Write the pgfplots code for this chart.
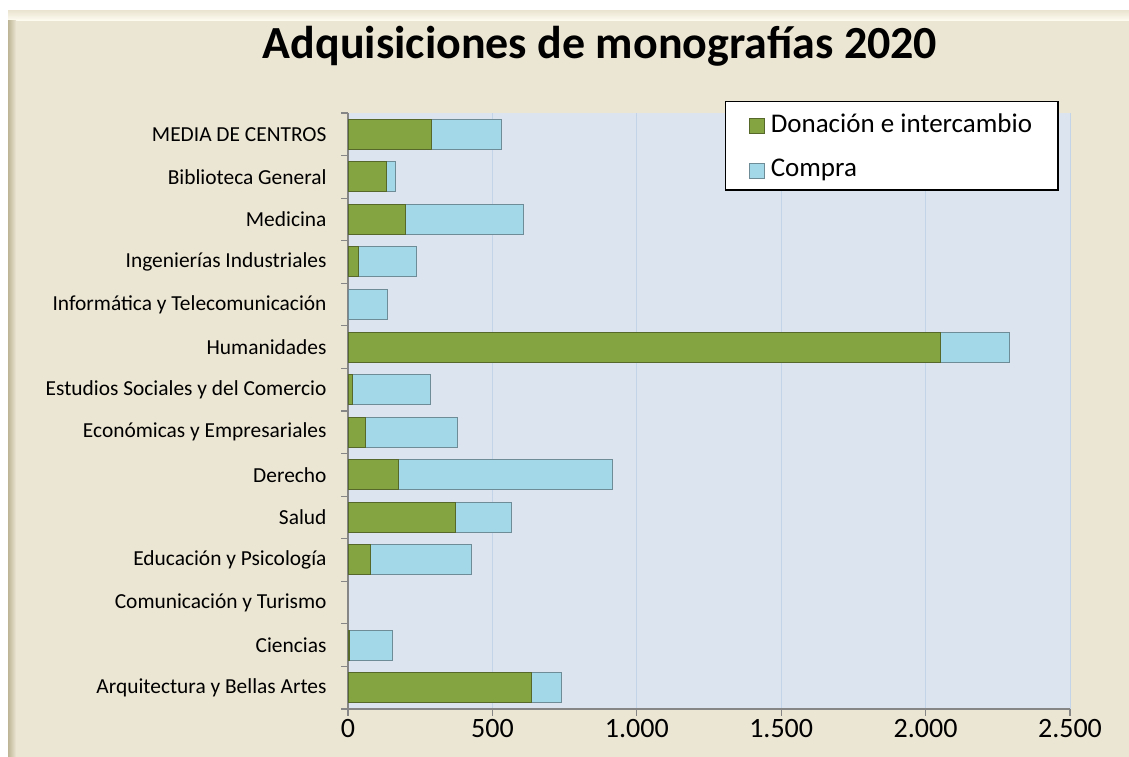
\documentclass[border=0pt]{standalone}
\usepackage{pgfplots}
\pgfplotsset{compat=1.18}
\usepackage{fontspec}
\setmainfont{Carlito}

\definecolor{bgbeige}{HTML}{EBE5D3}
\definecolor{bevlight}{HTML}{FFFDF2}
\definecolor{bevdark}{HTML}{BDB595}
\definecolor{plotbg}{HTML}{DCE4F0}
\definecolor{gridc}{HTML}{C3D3E8}
\definecolor{axisgray}{HTML}{868686}
\definecolor{greenc}{HTML}{84A341}
\definecolor{greendk}{HTML}{56692A}
\definecolor{bluec}{HTML}{A2D8E7}
\definecolor{bluedk}{HTML}{6E8C98}

\begin{document}
\begin{tikzpicture}[x=1pt,y=1pt]
\fill[white] (0,0) rectangle (1129,757);
\fill[bgbeige] (8,0) rectangle (1129,746);
% bevel edges of the chart frame
\shade[top color=bgbeige, bottom color=bevlight] (8,736) rectangle (1129,746);
\shade[left color=bevdark, right color=bgbeige] (8,0) rectangle (16,736);
\node[font=\bfseries\fontsize{46}{55}\selectfont] at (600,711) {Adquisiciones de monografías 2020};
\begin{axis}[
    at={(348pt,48pt)}, anchor=south west,
    scale only axis, width=722pt, height=596pt,
    xbar stacked, bar width=30pt,
    xmin=0, xmax=2500, ymin=-0.5, ymax=13.5,
    axis x line*=bottom, axis y line*=left,
    axis line style={draw=axisgray, line width=1.2pt},
    axis background/.style={fill=plotbg},
    xtick={0,500,1000,1500,2000,2500},
    xmajorgrids, major x grid style={draw=gridc, line width=1pt},
    tick align=outside, major tick length=7pt,
    tick style={draw=axisgray, line width=1.2pt},
    ytick={0,...,13},
    minor ytick={-0.5,0.5,...,13.5}, minor tick length=7pt,
    major y tick style={draw=none},
    yticklabels={Arquitectura y Bellas Artes, Ciencias, Comunicación y Turismo,
      Educación y Psicología, Salud, Derecho, Económicas y Empresariales,
      Estudios Sociales y del Comercio, Humanidades, Informática y Telecomunicación,
      Ingenierías Industriales, Medicina, Biblioteca General, MEDIA DE CENTROS},
    yticklabel style={font=\fontsize{21.4}{25}\selectfont, xshift=-11pt},
    xticklabel style={font=\fontsize{28}{33}\selectfont},
    /pgf/number format/.cd, 1000 sep={.}, assume math mode=true, /pgfplots/.cd,
    legend style={at={(0.522,1.02)}, anchor=north west, draw=black, line width=1.2pt,
      fill=white, font=\fontsize{27}{32}\selectfont, inner xsep=24pt, inner ysep=10pt,
      /tikz/row sep=21pt, /tikz/column sep=0pt},
    legend cell align=left,
    legend image code/.code={\draw[#1, line width=0.6pt] (0pt,-10pt) rectangle (15pt,5pt);
      \path[draw=none, fill=none] (0pt,-10pt) rectangle (19pt,5pt);},
]
\addplot[fill=greenc, draw=greendk, line width=1pt] coordinates {
  (637,0) (5,1) (0,2) (79,3) (372,4) (175,5) (62,6) (16,7) (2051,8) (0,9)
  (37,10) (200,11) (134,12) (290,13)};
\addlegendentry{Donación e intercambio}
\addplot[fill=bluec, draw=bluedk, line width=1pt] coordinates {
  (101,0) (150,1) (0,2) (347,3) (195,4) (742,5) (317,6) (270,7) (240,8) (137,9)
  (201,10) (409,11) (30,12) (242,13)};
\addlegendentry{Compra}
\end{axis}
\end{tikzpicture}
\end{document}
